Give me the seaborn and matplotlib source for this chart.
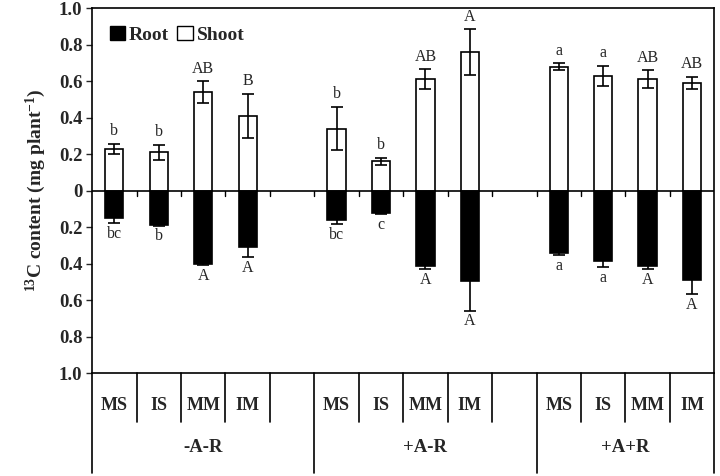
import numpy as np
import pandas as pd
import matplotlib
matplotlib.use("Agg")
import matplotlib.pyplot as plt
import seaborn as sns
from matplotlib.patches import Patch

# --- data ---
groups = ["-A-R", "+A-R", "+A+R"]
species = ["MS", "IS", "MM", "IM"]

shoot_mean = [0.23, 0.21, 0.54, 0.41,
              0.34, 0.16, 0.61, 0.76,
              0.68, 0.63, 0.61, 0.59]
shoot_err = [0.027, 0.04, 0.058, 0.12,
             0.12, 0.02, 0.055, 0.124,
             0.017, 0.055, 0.05, 0.035]
shoot_letters = ["b", "b", "AB", "B",
                 "b", "b", "AB", "A",
                 "a", "a", "AB", "AB"]

root_mean = [0.148, 0.186, 0.404, 0.308,
             0.163, 0.125, 0.412, 0.497,
             0.343, 0.388, 0.412, 0.489]
root_err = [0.03, 0.005, 0.005, 0.055,
            0.02, 0.005, 0.02, 0.16,
            0.012, 0.03, 0.02, 0.077]
root_letters = ["bc", "b", "A", "A",
                "bc", "c", "A", "A",
                "a", "a", "A", "A"]

# slot order with an empty slot after the first two groups
order = []
for gi, g in enumerate(groups):
    order += [f"{g} {s}" for s in species]
    if gi < len(groups) - 1:
        order.append(f"gap{gi}")

labels = [f"{g} {s}" for g in groups for s in species]
df = pd.DataFrame({
    "slot": labels * 2,
    "part": ["Shoot"] * len(labels) + ["Root"] * len(labels),
    "value": list(shoot_mean) + [-v for v in root_mean],
    "err": list(shoot_err) + list(root_err),
})

sns.set_style("white")
plt.rcParams["font.family"] = ["Liberation Serif", "DejaVu Serif"]
plt.rcParams["mathtext.fontset"] = "custom"
plt.rcParams["mathtext.bf"] = "Liberation Serif:bold"
plt.rcParams["mathtext.rm"] = "Liberation Serif:bold"

fig = plt.figure(figsize=(7.2, 4.76), dpi=100)
ax = fig.add_axes([0.128, 0.216, 0.864, 0.767])

sns.barplot(data=df, x="slot", y="value", hue="part", order=order,
            hue_order=["Root", "Shoot"],
            palette={"Root": "black", "Shoot": "white"},
            dodge=False, width=0.41, edgecolor="black", linewidth=1.2,
            errorbar=None, legend=False, ax=ax)

pos = {s: i for i, s in enumerate(order)}
xs = np.array([pos[s] for s in labels])

ax.errorbar(xs, shoot_mean, yerr=shoot_err, fmt="none", ecolor="black",
            elinewidth=1.2, capsize=4, capthick=1.2, zorder=5)
ax.errorbar(xs, [-v for v in root_mean], yerr=root_err, fmt="none",
            ecolor="black", elinewidth=1.2, capsize=4, capthick=1.2, zorder=5)

for x, m, e, t in zip(xs, shoot_mean, shoot_err, shoot_letters):
    ax.text(x, m + e + 0.025, t, ha="center", va="bottom", fontsize=11.5)
for x, m, e, t in zip(xs, root_mean, root_err, root_letters):
    ax.text(x, -(m + e) - 0.015, t, ha="center", va="top", fontsize=11.5)

ax.set_xlim(-0.5, len(order) - 0.5)
ax.set_ylim(-1.0, 1.0)
yt = np.round(np.arange(-1.0, 1.01, 0.2), 1)
ax.set_yticks(yt)
ax.set_yticklabels(["0" if v == 0 else f"{abs(v):.1f}" for v in yt],
                   fontsize=13.5, fontweight="bold")
ax.tick_params(axis="y", direction="out", length=4, width=1, left=True, pad=3)
ax.set_xticks([])
ax.set_xlabel("")
ax.set_ylabel(r"$\mathbf{^{13}}$C content (mg plant$\mathbf{^{-1}}$)",
              fontsize=14, fontweight="bold", labelpad=8)

for sp in ax.spines.values():
    sp.set_visible(True)
    sp.set_color("black")
    sp.set_linewidth(1.2)

# zero line with small ticks at slot boundaries
ax.axhline(0, color="black", lw=1.2, zorder=6)
for b in np.arange(0.5, len(order) - 1, 1.0):
    ax.plot([b, b], [0, -0.03], color="black", lw=1, zorder=6)

# table-style category axis below the plot
tr = ax.get_xaxis_transform()
n = len(order)
group_edges = [-0.5]
for i, s in enumerate(order):
    if s.startswith("gap"):
        group_edges.append(i + 0.5)
group_edges.append(n - 0.5)
for b in np.arange(-0.5, n, 1.0):
    if any(abs(b - g) < 1e-6 for g in group_edges):
        ax.plot([b, b], [0, -0.274], transform=tr, color="black", lw=1.2, clip_on=False)
    else:
        ax.plot([b, b], [0, -0.134], transform=tr, color="black", lw=1.2, clip_on=False)

for s in labels:
    ax.text(pos[s], -0.088, s.split(" ")[1], transform=tr, ha="center",
            va="center", fontsize=13, fontweight="bold")
for gi, g in enumerate(groups):
    c = (group_edges[gi] + group_edges[gi + 1]) / 2
    ax.text(c, -0.203, g, transform=tr, ha="center", va="center",
            fontsize=13.5, fontweight="bold")

handles = [Patch(facecolor="black", edgecolor="black", label="Root"),
           Patch(facecolor="white", edgecolor="black", label="Shoot")]
ax.legend(handles=handles, loc="upper left", bbox_to_anchor=(0.0, 1.0),
          ncol=2, frameon=False, handlelength=0.8, handleheight=0.8,
          handletextpad=0.2, columnspacing=0.4,
          prop={"family": "Liberation Serif", "weight": "bold", "size": 14})

fig.savefig("out.png", dpi=100)
